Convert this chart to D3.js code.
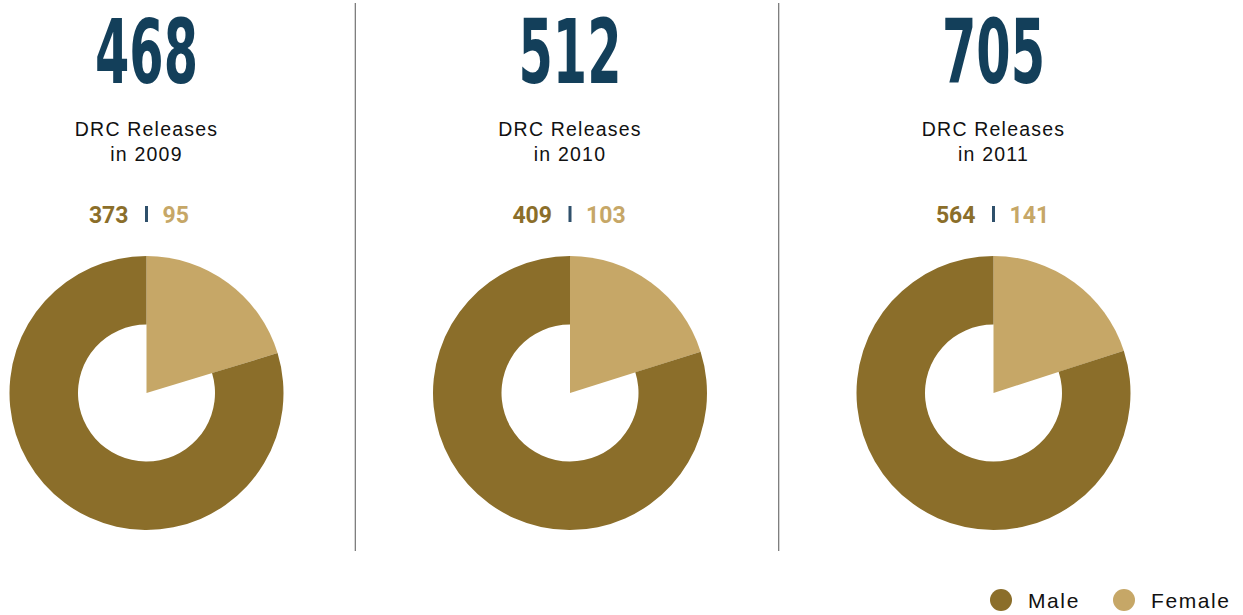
<!DOCTYPE html>
<html>
<head>
<meta charset="utf-8">
<script src="https://cdn.jsdelivr.net/npm/d3@7"></script>
<style>
  body { margin: 0; background: #fff; }
</style>
</head>
<body>
<div id="chart"></div>
<script>
const years = [2009, 2010, 2011]
const totals = [468, 512, 705]
const male = [373, 409, 564]
const female = [95, 103, 141]
const legendLabels = ["Male", "Female"]

const width = 1243, height = 615
const colors = {male: "#8b6e2a", female: "#c6a767", blue: "#133f5a", bar: "#2f506b"}
const outerR = 137, innerR = 68.5

const svg = d3.select("#chart").append("svg")
  .attr("width", width)
  .attr("height", height)

const x = d3.scalePoint(years, [146.5, 993.5])
const step = x(years[1]) - x(years[0])

// dividers between panels (sit a little left of midway)
svg.append("g")
  .selectAll("line")
  .data(years.slice(1))
  .join("line")
    .attr("x1", d => x(d) - step / 2 - 3)
    .attr("x2", d => x(d) - step / 2 - 3)
    .attr("y1", 3)
    .attr("y2", 551)
    .attr("stroke", "#555")
    .attr("stroke-width", 1)

const pie = d3.pie().sort(null).value(d => d.value)
const maleArc = d3.arc().innerRadius(innerR).outerRadius(outerR)
const femaleArc = d3.arc().innerRadius(0).outerRadius(outerR)

const panels = svg.selectAll("g.panel")
  .data(years.map((y, i) => ({year: y, total: totals[i], male: male[i], female: female[i]})))
  .join("g")
    .attr("class", "panel")
    .attr("transform", d => `translate(${x(d.year)},0)`)

panels.append("text")
  .attr("y", 83)
  .attr("text-anchor", "middle")
  .attr("font-family", "DejaVu Sans Condensed, DejaVu Sans")
  .attr("font-weight", "bold")
  .attr("font-size", 89)
  .attr("fill", colors.blue)
  .attr("textLength", 103)
  .attr("lengthAdjust", "spacingAndGlyphs")
  .text(d => d.total)

panels.append("text")
  .attr("text-anchor", "middle")
  .attr("font-family", "Liberation Sans, Arial, sans-serif")
  .attr("font-size", 19.5)
  .attr("letter-spacing", 1.2)
  .attr("fill", "#111")
  .call(t => t.append("tspan").attr("x", 0).attr("y", 136).text("DRC Releases"))
  .call(t => t.append("tspan").attr("x", 0).attr("y", 161).text(d => `in ${d.year}`))

const split = panels.append("g")
  .attr("font-family", "Roboto, Liberation Sans, sans-serif")
  .attr("font-weight", "bold")
  .attr("font-size", 23)

split.append("text")
  .attr("x", -18)
  .attr("y", 223)
  .attr("text-anchor", "end")
  .attr("fill", colors.male)
  .text(d => d.male)

split.append("rect")
  .attr("x", -1.5)
  .attr("y", 206)
  .attr("width", 3)
  .attr("height", 16)
  .attr("fill", colors.bar)

split.append("text")
  .attr("x", 16)
  .attr("y", 223)
  .attr("text-anchor", "start")
  .attr("fill", colors.female)
  .text(d => d.female)

const donuts = panels.append("g")
  .attr("transform", `translate(0,393)`)

donuts.selectAll("path")
  .data(d => pie([{key: "female", value: d.female}, {key: "male", value: d.male}]))
  .join("path")
    .attr("d", d => d.data.key == "male" ? maleArc(d) : femaleArc(d))
    .attr("fill", d => colors[d.data.key])

// legend
const legend = svg.append("g")
  .attr("font-family", "Liberation Sans, Arial, sans-serif")
  .attr("font-size", 21)
  .attr("letter-spacing", 1.6)
  .attr("fill", "#111")

const lx = d3.scaleOrdinal(legendLabels, [1001, 1124])

legend.selectAll("circle")
  .data(legendLabels)
  .join("circle")
    .attr("cx", d => lx(d))
    .attr("cy", 600)
    .attr("r", 11)
    .attr("fill", d => d == "Male" ? colors.male : colors.female)

legend.selectAll("text")
  .data(legendLabels)
  .join("text")
    .attr("x", d => lx(d) + 27)
    .attr("y", 608)
    .text(d => d)
</script>
</body>
</html>
